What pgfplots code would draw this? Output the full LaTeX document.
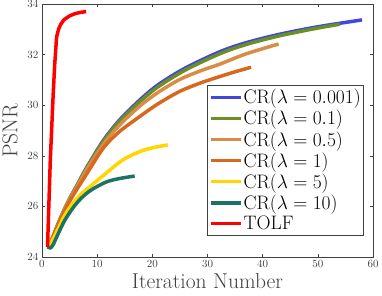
\RequirePackage{fix-cm}
\documentclass[border=0pt]{standalone}
\usepackage{fontspec}
\setmainfont{Latin Modern Roman}
\usepackage{pgfplots}
\pgfplotsset{compat=1.18}
\definecolor{axgray}{rgb}{0.25,0.25,0.25}
\definecolor{cblue}{rgb}{0.26,0.28,0.88}
\definecolor{cgreen}{rgb}{0.42,0.56,0.14}
\definecolor{clorange}{rgb}{0.85,0.55,0.27}
\definecolor{corange}{rgb}{0.84,0.41,0.12}
\definecolor{cyellow}{rgb}{1.0,0.84,0.0}
\definecolor{cteal}{rgb}{0.11,0.45,0.38}
\definecolor{cred}{rgb}{1.0,0.0,0.0}
\begin{document}
\begin{tikzpicture}
\begin{axis}[
  name=ax,
  scale only axis,
  width=331pt, height=253pt,
  xmin=0, xmax=60, ymin=24, ymax=34,
  xtick={0,10,...,60}, ytick={24,26,...,34},
  tick align=inside,
  major tick length=3.5pt,
  axis line style={axgray, line width=0.6pt},
  every tick/.style={axgray, line width=0.6pt},
  tick label style={font=\fontsize{11}{13}\selectfont, text=axgray},
  /pgf/number format/assume math mode=true,
  xlabel={Iteration Number},
  ylabel={PSNR},
  label style={font=\fontsize{21.5}{25}\selectfont, text=axgray},
  xlabel style={yshift=2pt},
  ylabel style={yshift=3pt},
  legend cell align=left,
  legend image code/.code={\draw[#1] (0pt,0pt) -- (30pt,0pt);},
  legend style={at={(0.973,0.68)}, anchor=north east, draw=axgray, line width=0.6pt,
    fill=white, font=\fontsize{19.5}{22}\selectfont, row sep=3pt,
    inner xsep=2pt, inner ysep=3pt,
    nodes={inner xsep=1pt, inner ysep=1pt}},
  every axis plot/.append style={line width=3.5pt},
]
\addplot[cblue, smooth] coordinates {(1,24.4)(1.5,24.55)(2,24.8)(3,25.35)(4,25.85)(5,26.3)(6.4,26.85)(8,27.5)(11.1,28.6)(14,29.4)(17.7,30.2)(21,30.8)(25.9,31.46)(32.2,32.11)(37,32.47)(43,32.8)(50,33.1)(58,33.37)};
\addlegendentry{CR($\lambda=0.001$)}
\addplot[cgreen, smooth] coordinates {(1,24.4)(1.5,24.55)(2,24.8)(3,25.35)(4,25.85)(5,26.3)(6.4,26.85)(8,27.48)(11.1,28.56)(14,29.35)(17.7,30.13)(21,30.72)(25.9,31.38)(32.2,32.03)(37,32.4)(43,32.74)(50,33.05)(54,33.2)};
\addlegendentry{CR($\lambda=0.1$)}
\addplot[clorange, smooth] coordinates {(1,24.4)(1.5,24.55)(2,24.8)(3,25.35)(4,25.85)(5,26.28)(6.4,26.8)(8,27.42)(11.1,28.45)(14,29.2)(17.7,29.96)(21,30.5)(25,31.02)(29,31.38)(32.2,31.62)(37,32.03)(42.9,32.42)};
\addlegendentry{CR($\lambda=0.5$)}
\addplot[corange, smooth] coordinates {(1,24.4)(1.5,24.55)(2,24.78)(3,25.3)(4,25.78)(5,26.2)(6.4,26.7)(8,27.25)(11.1,28.3)(14,28.95)(17.7,29.55)(21,30.05)(25,30.55)(29,30.9)(32.2,31.13)(35,31.32)(37.9,31.5)};
\addlegendentry{CR($\lambda=1$)}
\addplot[cyellow, smooth] coordinates {(1,24.4)(1.5,24.5)(2,24.7)(3,25.15)(4,25.6)(5,25.95)(6,26.22)(7,26.47)(8.68,26.78)(11,27.2)(14.4,27.8)(17,28.1)(19.5,28.29)(22.8,28.43)};
\addlegendentry{CR($\lambda=5$)}
\addplot[cteal, smooth] coordinates {(1,24.4)(1.5,24.36)(2,24.48)(3,24.95)(4,25.4)(5,25.75)(6,26.05)(7,26.3)(8,26.5)(9.28,26.7)(11.7,26.97)(14,27.1)(16.8,27.2)};
\addlegendentry{CR($\lambda=10$)}
\addplot[cred] coordinates {(1,24.4)(1.5,27.8)(2,30.3)(2.3,31.6)(2.65,32.7)(3,33.0)(3.4,33.2)(4,33.38)(5,33.53)(6,33.62)(7,33.67)(8,33.7)};
\addlegendentry{TOLF}
\end{axis}
\pgfresetboundingbox
\path ([shift={(-42pt,-38pt)}]ax.south west) rectangle ([shift={(9pt,4pt)}]ax.north east);
\end{tikzpicture}
\end{document}
